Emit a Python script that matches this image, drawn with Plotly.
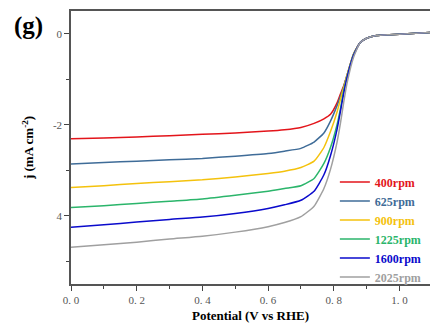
import plotly.graph_objects as go

potential = [0.0, 0.1, 0.2, 0.3, 0.4, 0.5, 0.6, 0.65, 0.7, 0.74, 0.77, 0.79, 0.81, 0.82,
             0.83, 0.84, 0.86, 0.88, 0.9, 0.93, 0.97, 1.0, 1.05, 1.1]

tail = [-0.20, -0.10, -0.04, -0.02, -0.01, 0.01, 0.03]

j_400 = [-2.31, -2.29, -2.27, -2.24, -2.21, -2.18, -2.14, -2.11, -2.06, -1.97, -1.87, -1.77,
         -1.52, -1.33, -1.15, -0.92, -0.45] + tail
j_625 = [-2.86, -2.83, -2.80, -2.77, -2.74, -2.69, -2.63, -2.58, -2.52, -2.38, -2.18, -1.92,
         -1.58, -1.38, -1.17, -0.92, -0.45] + tail
j_900 = [-3.38, -3.34, -3.29, -3.25, -3.21, -3.15, -3.07, -3.02, -2.94, -2.80, -2.50, -2.15,
         -1.72, -1.45, -1.19, -0.93, -0.46] + tail
j_1225 = [-3.82, -3.78, -3.73, -3.68, -3.63, -3.55, -3.46, -3.40, -3.34, -3.18, -2.85, -2.50,
          -2.00, -1.66, -1.26, -0.96, -0.47] + tail
j_1600 = [-4.25, -4.20, -4.14, -4.08, -4.03, -3.95, -3.84, -3.76, -3.66, -3.46, -3.10, -2.68,
          -2.10, -1.72, -1.32, -0.98, -0.48] + tail
j_2025 = [-4.69, -4.64, -4.58, -4.51, -4.45, -4.36, -4.24, -4.15, -4.02, -3.79, -3.40, -2.98,
          -2.38, -1.98, -1.52, -1.10, -0.52] + tail

series_names = ["400rpm", "625rpm", "900rpm", "1225rpm", "1600rpm", "2025rpm"]
series_values = [j_400, j_625, j_900, j_1225, j_1600, j_2025]
series_colors = ["#E3151B", "#3F6C98", "#F4C20D", "#2BB56B", "#0A0ACC", "#A0A0A0"]

x_tickvals = [0.0, 0.2, 0.4, 0.6, 0.8, 1.0]
x_ticktext = ["0. 0", "0. 2", "0. 4", "0. 6", "0. 8", "1. 0"]
y_tickvals = [0, -2, -4]
y_ticktext = ["0", "-2", "4"]

fig = go.Figure()
for name, vals, col in zip(series_names, series_values, series_colors):
    fig.add_trace(go.Scatter(
        x=potential, y=vals, mode="lines",
        name=f"<b><span style='color:{col}'>{name}</span></b>",
        line=dict(color=col, width=1.5, shape="spline", smoothing=0.5),
    ))

serif = "Liberation Serif, Times New Roman, serif"
fig.update_layout(
    width=430, height=329,
    margin=dict(l=71, r=0, t=11, b=45),
    paper_bgcolor="white", plot_bgcolor="white",
    showlegend=True,
    legend=dict(
        x=0.735, y=0.2, xanchor="left", yanchor="middle",
        bgcolor="rgba(0,0,0,0)", borderwidth=0,
        font=dict(family=serif, size=12, color="#333"),
        tracegroupgap=0, itemwidth=30,
    ),
    xaxis=dict(
        range=[0, 1.093], tickmode="array", tickvals=x_tickvals, ticktext=x_ticktext,
        ticks="outside", ticklen=5, tickwidth=1.2, tickcolor="#444",
        minor=dict(dtick=0.1, tick0=0, ticks="outside", ticklen=3, tickcolor="#444", tickwidth=1),
        showline=True, linecolor="#555", linewidth=1.5, mirror=True,
        showgrid=False, zeroline=False,
        tickfont=dict(family=serif, size=11, color="#555"),
        title=dict(text="<b>Potential (V vs RHE)</b>", font=dict(family=serif, size=13, color="black"),
                   standoff=6),
    ),
    yaxis=dict(
        range=[-5.5, 0.5], tickmode="array", tickvals=y_tickvals, ticktext=y_ticktext,
        ticks="outside", ticklen=5, tickwidth=1.2, tickcolor="#444",
        minor=dict(dtick=1, tick0=0, ticks="outside", ticklen=3, tickcolor="#444", tickwidth=1),
        showline=True, linecolor="#555", linewidth=1.5, mirror=False,
        showgrid=False, zeroline=False,
        tickfont=dict(family=serif, size=11, color="#555"),
        title=dict(text="<b>j (mA cm<sup>-2</sup>)</b>", font=dict(family=serif, size=13, color="black"),
                   standoff=16),
    ),
    annotations=[dict(
        text="<b>(g)</b>", xref="paper", yref="paper", x=-0.117, y=0.945,
        xanchor="center", yanchor="middle", showarrow=False,
        font=dict(family=serif, size=25, color="black"),
    )],
)

fig.write_html("out.html")
